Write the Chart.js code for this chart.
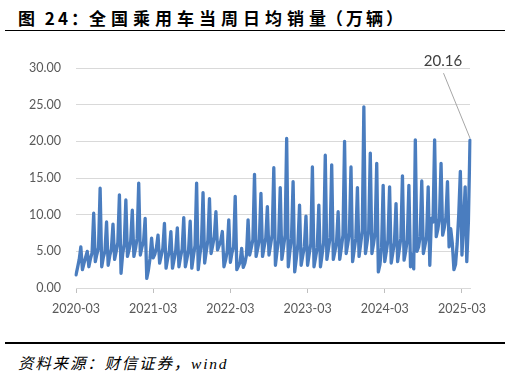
<!DOCTYPE html>
<html>
<head>
<meta charset="utf-8">
<script src="https://cdn.jsdelivr.net/npm/chart.js@4.4.1/dist/chart.umd.min.js"></script>
<style>
    body { margin: 0; width: 511px; height: 374px; background: #fff; position: relative; overflow: hidden; }
    .title { position: absolute; top: 5px; font-family: "Noto Sans CJK SC", sans-serif; font-weight: 700; font-size: 17px; color: #000; white-space: nowrap; }
    .rule { position: absolute; left: 5px; width: 500px; background: #000; }
    #source { position: absolute; left: 18px; top: 351px; font-family: "Liberation Serif", "Noto Sans CJK SC", serif; font-style: italic; font-size: 15.5px; letter-spacing: 1.8px; color: #000; }
    #chartBox { position: absolute; left: 0; top: 40px; }
</style>
</head>
<body>
<div class="title" style="left: 18px; letter-spacing: 3px;">图 24：</div>
<div class="title" style="left: 89px; letter-spacing: 5px;">全国乘用车当周日均销量</div>
<div class="title" style="left: 326px; letter-spacing: 3px;">（万辆）</div>
<div class="rule" style="top: 30px; height: 1px;"></div>
<canvas id="chartBox" width="511" height="290"></canvas>
<div class="rule" style="top: 342px; height: 2px;"></div>
<div id="source">资料来源：财信证券，wind</div>
<script>
// weekly values, one row per month, 2020-03 .. 2025-03
const weeklySales = [
    [1.8, 2.8, 3.9, 5.6], [2.5, 3.4, 4.2, 5.0], [2.9, 4.0, 4.8, 10.2], [3.6, 4.6, 5.5, 13.6],
    [2.9, 4.2, 5.0, 9.0], [3.1, 4.4, 5.3, 8.7], [3.9, 5.0, 6.2, 12.7], [2.0, 4.6, 6.0, 12.0],
    [4.3, 5.2, 6.4, 10.6], [4.3, 5.4, 6.8, 14.3],
    // 2021
    [4.5, 5.6, 6.3, 9.5], [1.3, 2.4, 4.0, 6.8], [4.1, 4.6, 5.5, 7.2], [3.4, 4.4, 5.4, 8.8],
    [2.7, 4.0, 5.0, 7.7], [2.7, 3.9, 5.1, 8.2], [2.9, 4.2, 5.3, 9.6], [2.9, 4.0, 5.2, 9.1],
    [2.7, 4.3, 5.8, 14.3], [2.5, 4.5, 6.0, 13.0], [3.4, 5.0, 6.5, 12.2], [4.7, 5.8, 7.0, 10.4],
    // 2022
    [5.2, 5.8, 6.4, 7.7], [2.9, 3.8, 5.0, 9.3], [3.5, 4.8, 5.6, 12.5], [2.5, 3.0, 3.5, 5.4],
    [2.8, 3.4, 4.5, 9.3], [4.5, 5.5, 6.6, 15.5], [4.3, 5.4, 6.6, 12.9], [4.3, 5.6, 6.8, 11.1],
    [4.5, 5.9, 7.3, 16.4], [3.1, 5.0, 6.6, 13.7], [3.9, 5.5, 7.2, 20.4], [2.9, 5.0, 6.8, 14.5],
    // 2023
    [2.2, 4.0, 6.0, 11.3], [3.1, 4.4, 5.6, 9.8], [3.1, 4.6, 6.0, 16.5], [2.9, 4.2, 5.5, 11.3],
    [2.9, 4.5, 6.2, 18.1], [3.9, 5.4, 6.9, 16.8], [3.9, 5.0, 6.2, 10.4], [3.9, 5.5, 7.2, 20.0],
    [4.7, 6.0, 7.5, 16.5], [3.6, 5.2, 6.8, 13.7], [4.3, 6.0, 7.8, 24.7], [4.7, 6.2, 7.8, 18.4],
    // 2024
    [4.7, 6.0, 7.6, 17.0], [2.2, 3.2, 5.5, 14.0], [3.6, 5.0, 6.6, 13.8], [3.4, 4.8, 6.2, 11.5],
    [3.6, 5.2, 6.8, 15.3], [3.8, 5.0, 6.6, 14.0], [2.9, 4.6, 2.6, 20.2], [5.0, 5.6, 7.0, 14.6],
    [4.7, 5.8, 7.0, 13.8], [3.1, 9.5, 9.0, 20.2], [7.0, 8.0, 9.5, 17.0], [7.2, 8.2, 9.6, 14.5],
    // 2025
    [5.6, 8.1, 6.1, 2.5], [3.2, 6.0, 10.0, 15.9], [4.5, 9.0, 13.8, 3.6, 9.0, 20.16]
];
const tickLabels = ["2020-03", "2021-03", "2022-03", "2023-03", "2024-03", "2025-03"];
const yTicks = [0, 5, 10, 15, 20, 25, 30];

const startYear = 2020, startMonth = 3;
const labels = [];
const values = [];
weeklySales.forEach((row, i) => {
    const m = startMonth - 1 + i;
    const name = `${startYear + Math.floor(m / 12)}-${String(m % 12 + 1).padStart(2, "0")}`;
    row.forEach(v => { labels.push(name); values.push(v); });
});
const tickIdx = tickLabels.map(t => labels.indexOf(t));

const lastLabel = {
    id: "lastLabel",
    afterDatasetsDraw(chart) {
        const meta = chart.getDatasetMeta(0);
        const pt = meta.data[meta.data.length - 1];
        const ctx = chart.ctx;
        ctx.save();
        ctx.strokeStyle = "#a6a6a6";
        ctx.lineWidth = 1;
        ctx.beginPath();
        ctx.moveTo(pt.x, pt.y - 2);
        ctx.lineTo(pt.x - 26.5, pt.y - 67);
        ctx.stroke();
        ctx.fillStyle = "#404040";
        ctx.font = "15px Lato";
        ctx.textAlign = "center";
        ctx.textBaseline = "middle";
        ctx.fillText(values[values.length - 1].toFixed(2), pt.x - 27, pt.y - 79);
        ctx.restore();
    }
};

const axisFont = { family: "Lato", size: 12.5 };

new Chart(document.getElementById("chartBox"), {
    type: "line",
    data: {
        labels: labels,
        datasets: [{
            data: values,
            borderColor: "#4a7dbf",
            borderWidth: 3.3,
            pointRadius: 0,
            tension: 0,
            borderJoinStyle: "round",
            borderCapStyle: "round",
            fill: false
        }]
    },
    options: {
        responsive: false,
        animation: false,
        layout: { padding: { top: 28, right: 41, left: 0, bottom: 0 } },
        plugins: { legend: { display: false }, tooltip: { enabled: false } },
        scales: {
            x: {
                afterFit: s => { s.height = 42; },
                afterBuildTicks: s => { s.ticks = tickIdx.map(i => ({ value: i })); },
                grid: { drawOnChartArea: false, drawTicks: true, tickLength: 5, color: "#bfbfbf" },
                border: { display: true, color: "#d9d9d9" },
                ticks: {
                    autoSkip: false, maxRotation: 0, padding: 8, color: "#595959", font: axisFont,
                    callback: function (v) { return this.getLabelForValue(v); }
                }
            },
            y: {
                min: 0, max: 30,
                afterFit: s => { s.width = 76; },
                afterBuildTicks: s => { s.ticks = yTicks.map(v => ({ value: v })); },
                grid: { color: "#d9d9d9", drawTicks: false },
                border: { display: false },
                ticks: { padding: 15, color: "#595959", font: axisFont, callback: v => v.toFixed(2) }
            }
        }
    },
    plugins: [lastLabel]
});
</script>
</body>
</html>
